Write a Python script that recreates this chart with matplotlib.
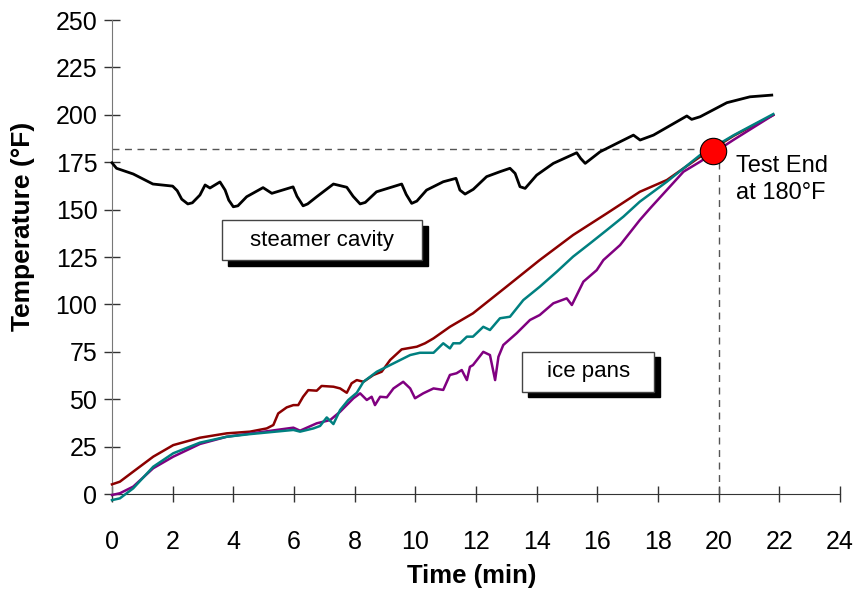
import matplotlib
matplotlib.use("Agg")
import matplotlib.pyplot as plt
import matplotlib.transforms as mtransforms
from matplotlib.patches import Rectangle

# steamer cavity temperature (black)
t_cav = [0, 0.15, 0.7, 1.35, 2.0, 2.15, 2.3, 2.5, 2.65, 2.9, 3.07, 3.23, 3.56,
         3.73, 3.85, 4.0, 4.15, 4.44, 4.98, 5.27, 5.97, 6.1, 6.3, 6.45, 6.75,
         7.3, 7.74, 7.95, 8.18, 8.35, 8.72, 9.55, 9.7, 9.88, 10.05, 10.37,
         10.92, 11.34, 11.47, 11.64, 11.91, 12.35, 12.79, 13.12, 13.29, 13.45,
         13.62, 14.0, 14.55, 15.32, 15.45, 15.6, 16.09, 16.75, 17.19, 17.41,
         17.85, 18.95, 19.11, 19.39, 20.27, 21.03, 21.75]
y_cav = [174.7, 171.8, 168.8, 163.5, 162.4, 160, 155.5, 153, 153.6, 157.7, 163,
         161.4, 164.6, 160.3, 155, 151.5, 152, 156.8, 161.6, 158.6, 162, 157,
         152, 153, 156.8, 163.5, 161.8, 157, 153, 153.8, 159.4, 163.5, 158,
         153.3, 154.5, 160.3, 164.7, 166.5, 160.3, 158.2, 160.7, 167.4, 170,
         171.8, 169.1, 162.1, 161.2, 168.2, 174.4, 180, 177, 174.4, 180.5,
         185.8, 189.3, 186.7, 189.3, 199.4, 197.6, 199, 206.4, 209.5, 210.4]

# ice pan 1 (dark red)
t_pan1 = [0, 0.26, 0.7, 1.36, 2.02, 2.9, 3.78, 4.55, 5.1, 5.32, 5.48, 5.76,
          5.98, 6.14, 6.3, 6.47, 6.75, 6.91, 7.3, 7.52, 7.74, 7.9, 8.07, 8.29,
          8.62, 8.89, 9.17, 9.55, 10.05, 10.32, 10.6, 11.14, 11.9, 13.0, 14.1,
          15.2, 16.31, 17.4, 18.29, 19.39, 20.5, 21.8]
y_pan1 = [5.1, 6.5, 11.8, 19.7, 25.8, 29.7, 32, 32.9, 34.6, 36.4, 42.5, 45.7,
          46.9, 46.9, 51.3, 54.8, 54.5, 57, 56.6, 55.7, 53.4, 58.4, 60.1, 59.2,
          62.8, 64.5, 70.7, 76.3, 77.7, 79.5, 82.1, 88.2, 95.3, 109.3, 123.4,
          136.6, 148, 159.4, 165.6, 177.9, 189, 199.9]

# ice pan 2 (teal)
t_pan2 = [0, 0.26, 0.7, 1.36, 2.02, 2.9, 3.78, 4.55, 5.98, 6.2, 6.64, 6.86,
          7.08, 7.3, 7.52, 7.79, 8.07, 8.29, 8.73, 9.28, 9.83, 10.15, 10.6,
          10.92, 11.14, 11.25, 11.47, 11.7, 11.9, 12.24, 12.46, 12.79, 13.12,
          13.56, 14.1, 14.66, 15.2, 15.76, 16.31, 16.86, 17.4, 18.29, 19.39,
          20.5, 21.8]
y_pan2 = [-3.2, -2.3, 3, 14.4, 21.5, 27.1, 30.2, 31.6, 33.8, 32.9, 34.6, 35.9,
          40.4, 36.9, 44.3, 49.6, 53.4, 59.2, 64.5, 68.9, 73.3, 74.5, 74.5,
          79.5, 76.8, 79.5, 79.5, 83, 83, 88.2, 86.5, 92.7, 93.5, 102.3, 109.3,
          117.2, 125.2, 132.2, 139.2, 146.3, 154.2, 164.7, 178.8, 189.3, 200.4]

# ice pan 3 (purple)
t_pan3 = [0, 0.26, 0.7, 1.36, 2.02, 2.9, 3.78, 5.98, 6.2, 6.75, 7.19, 7.52,
          7.96, 8.18, 8.4, 8.56, 8.67, 8.84, 9.06, 9.28, 9.6, 9.83, 9.99, 10.26,
          10.6, 10.92, 11.14, 11.36, 11.53, 11.7, 11.8, 11.9, 12.24, 12.46,
          12.63, 12.74, 12.9, 13.34, 13.78, 14.1, 14.55, 14.99, 15.16, 15.54,
          15.98, 16.2, 16.75, 17.4, 17.74, 18.84, 19.39, 20.48, 21.8]
y_pan3 = [-0.5, 0.4, 3.9, 13.6, 19.7, 26.4, 30.2, 35, 33.4, 37.3, 39, 43.4,
          50.5, 53.1, 49.6, 51.3, 46.9, 51.3, 51, 55.7, 59.2, 55.7, 50.5, 53.1,
          55.7, 54.9, 62.8, 63.7, 65.4, 60.1, 67.1, 68, 75, 73.3, 60.1, 72.4,
          78.6, 84.8, 91.8, 94.4, 100.6, 103.2, 99.7, 112, 118.1, 123.4, 131.3,
          144.5, 150.7, 170, 175.3, 186.7, 199.9]

end_time = 20
end_temp = 182
marker_time, marker_temp = 19.8, 181

x_ticks = list(range(0, 25, 2))
y_ticks = list(range(0, 251, 25))

NARROW = ["Liberation Sans Narrow", "Liberation Sans", "DejaVu Sans"]
plt.rcParams["font.family"] = ["Liberation Sans", "DejaVu Sans"]

fig = plt.figure(figsize=(8.66, 5.96), dpi=100)
ax = fig.add_axes([0.1293, 0.1711, 0.8407, 0.7953])

ax.plot([0, end_time], [end_temp, end_temp], ls=(0, (5, 4)), c="#555555", lw=1)
ax.plot([end_time, end_time], [0, end_temp], ls=(0, (5, 4)), c="#555555", lw=1)

ax.plot(t_cav, y_cav, c="black", lw=2.0, clip_on=False, zorder=3,
        solid_joinstyle="round")
ax.plot(t_pan1, y_pan1, c="#8b0000", lw=1.8, clip_on=False, zorder=3)
ax.plot(t_pan3, y_pan3, c="#800080", lw=1.8, clip_on=False, zorder=3)
ax.plot(t_pan2, y_pan2, c="#008080", lw=1.8, clip_on=False, zorder=3)

ax.plot([marker_time], [marker_temp], "o", ms=19, mfc="#ff0000", mec="black",
        mew=0.8, zorder=5)
ax.text(20.58, 179, "Test End\nat 180°F", family=NARROW, fontsize=17,
        va="top", ha="left", linespacing=1.3)


def label_box(x0, x1, y0, y1, text):
    shadow = mtransforms.offset_copy(ax.transData, fig=fig, x=4.5, y=-4, units="points")
    ax.add_patch(Rectangle((x0, y0), x1 - x0, y1 - y0, transform=shadow,
                           fc="black", ec="black", zorder=6))
    ax.add_patch(Rectangle((x0, y0), x1 - x0, y1 - y0, fc="white",
                           ec="#444444", lw=1, zorder=7))
    ax.text((x0 + x1) / 2, (y0 + y1) / 2, text, family=NARROW, fontsize=16,
            ha="center", va="center", zorder=8)


label_box(3.62, 10.21, 123.4, 144.5, "steamer cavity")
label_box(13.52, 17.87, 54.0, 75.0, "ice pans")

ax.set_xlim(0, 24)
ax.set_ylim(0, 250)
ax.set_xticks(x_ticks)
ax.set_yticks(y_ticks)
for s in ("top", "right"):
    ax.spines[s].set_visible(False)
ax.spines["left"].set_color("#777777")
ax.spines["bottom"].set_color("#333333")
ax.tick_params(axis="x", direction="inout", length=11.5, width=1,
               color="#333333", labelsize=18, pad=20)
ax.tick_params(axis="y", direction="inout", length=11, width=1,
               color="#333333", labelsize=18, pad=5)
ax.set_xlabel("Time (min)", fontsize=18.5, fontweight="bold")
ax.set_ylabel("Temperature (°F)", fontsize=19, fontweight="bold")
ax.xaxis.set_label_coords(0.4945, -0.148)
ax.yaxis.set_label_coords(-0.106, 0.565)

fig.savefig("out.png", dpi=100)
